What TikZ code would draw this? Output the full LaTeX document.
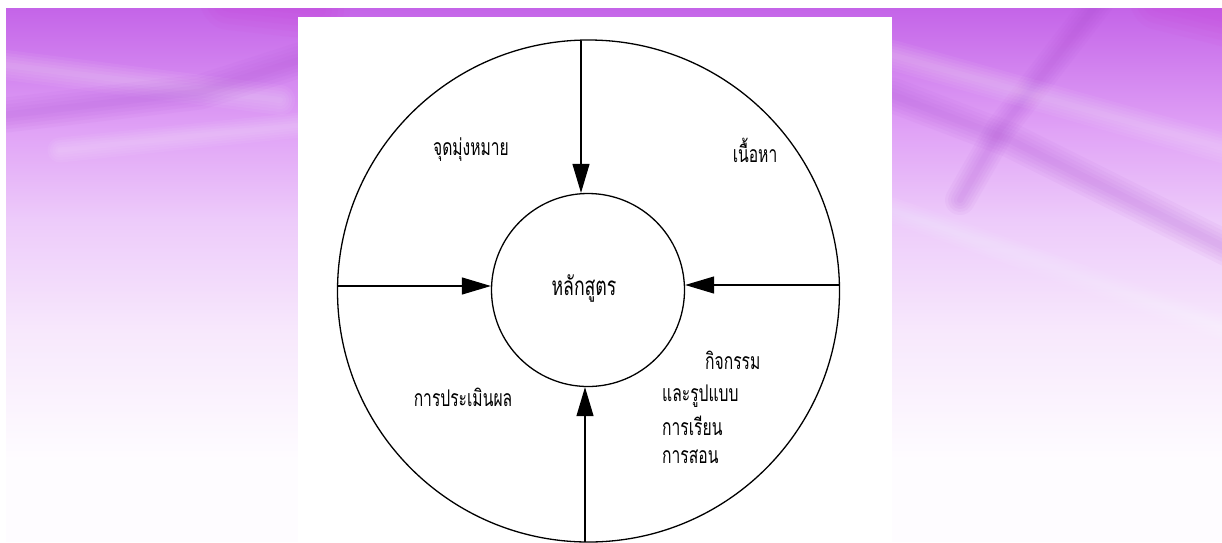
\documentclass[tikz,border=0pt]{standalone}
\usepackage{fontspec}
\newfontfamily\thaifont[Script=Thai,FakeStretch=0.68]{Loma}
\usetikzlibrary{arrows.meta}
\definecolor{pA}{RGB}{196,100,232}
\definecolor{pB}{RGB}{224,162,246}
\definecolor{pC}{RGB}{237,203,250}
\definecolor{pD}{RGB}{247,232,252}
\definecolor{pE}{RGB}{254,252,255}
\definecolor{pDark}{RGB}{165,65,205}
\definecolor{pMag}{RGB}{205,55,210}
\tikzset{
  lbl/.style={font=\thaifont\fontsize{23}{26}\selectfont, inner sep=0pt},
  ring/.style={draw=black, line width=1.3pt, circle, inner sep=0pt},
  flow/.style={draw=black, line width=1.3pt, -{Triangle[length=29pt,width=17pt]}}
}
% soft (blurred-looking) streak: colour, max width, path
\newcommand\softstreak[3]{%
  \foreach \w in {1,0.8,0.6,0.4,0.2}{%
    \draw[#1, line width=\w*#2, line cap=round, line join=round, opacity=0.05] #3;}}
\begin{document}
\begin{tikzpicture}[x=1pt,y=-1pt]
\useasboundingbox (0,0) rectangle (1222,542);
% background
\fill[white] (0,0) rectangle (1222,542);
\begin{scope}
\clip (6,8) rectangle (1222,542);
\shade[top color=pA, bottom color=pB] (6,8) rectangle (1222,130);
\shade[top color=pB, bottom color=pC] (6,129.5) rectangle (1222,220);
\shade[top color=pC, bottom color=pD] (6,219.5) rectangle (1222,330);
\shade[top color=pD, bottom color=pE] (6,329.5) rectangle (1222,460);
\fill[pE] (6,459.5) rectangle (1222,542);
% texture
\softstreak{pMag}{60pt}{(230,0) -- (320,10)}
\softstreak{pMag}{60pt}{(1160,0) -- (1240,20)}
\softstreak{white}{30pt}{(6,65) -- (280,100)}
\softstreak{pDark}{35pt}{(6,115) -- (200,92) -- (300,60)}
\softstreak{white}{25pt}{(60,150) -- (300,125)}
\softstreak{pDark}{30pt}{(1100,0) -- (1000,130) -- (960,200)}
\softstreak{pDark}{35pt}{(892,95) -- (1010,140) -- (1230,250)}
\softstreak{white}{30pt}{(892,55) -- (1230,150)}
\softstreak{white}{25pt}{(892,210) -- (1230,330)}
\end{scope}
% paper
\fill[white] (298,17) rectangle (892,542);
% circles
\node[ring, minimum size=502pt] (outer) at (588.5,291) {};
\node[ring, minimum size=193pt] (inner) at (588,290) {};
\node[font=\thaifont\fontsize{26}{28}\selectfont, inner sep=0pt] (core) at (584,288) {หลักสูตร};
% free ends
\coordinate (T) at (581,41);
\coordinate (B) at (585,542);
\coordinate (L) at (337.5,286);
\coordinate (R) at (839.5,285);
\draw[flow] (T) -- (T |- inner.north);
\draw[flow] (B) -- (B |- inner.south);
\draw[flow] (L) -- (inner.west |- L);
\draw[flow] (R) -- (inner.east |- R);
% labels
\node[lbl] (aim) at (471,150) {จุดมุ่งหมาย};
\node[lbl] (content) at (755,150) {เนื้อหา};
\node[lbl] (eval) at (463,397) {การประเมินผล};
\node[lbl, anchor=west] (act1) at (705,360) {กิจกรรม};
\node[lbl, anchor=west] (act2) at (662,396) {และรูปแบบ};
\node[lbl, anchor=west] (act3) at (662,426) {การเรียน};
\node[lbl, anchor=west] (act4) at (662,457) {การสอน};
\end{tikzpicture}
\end{document}
